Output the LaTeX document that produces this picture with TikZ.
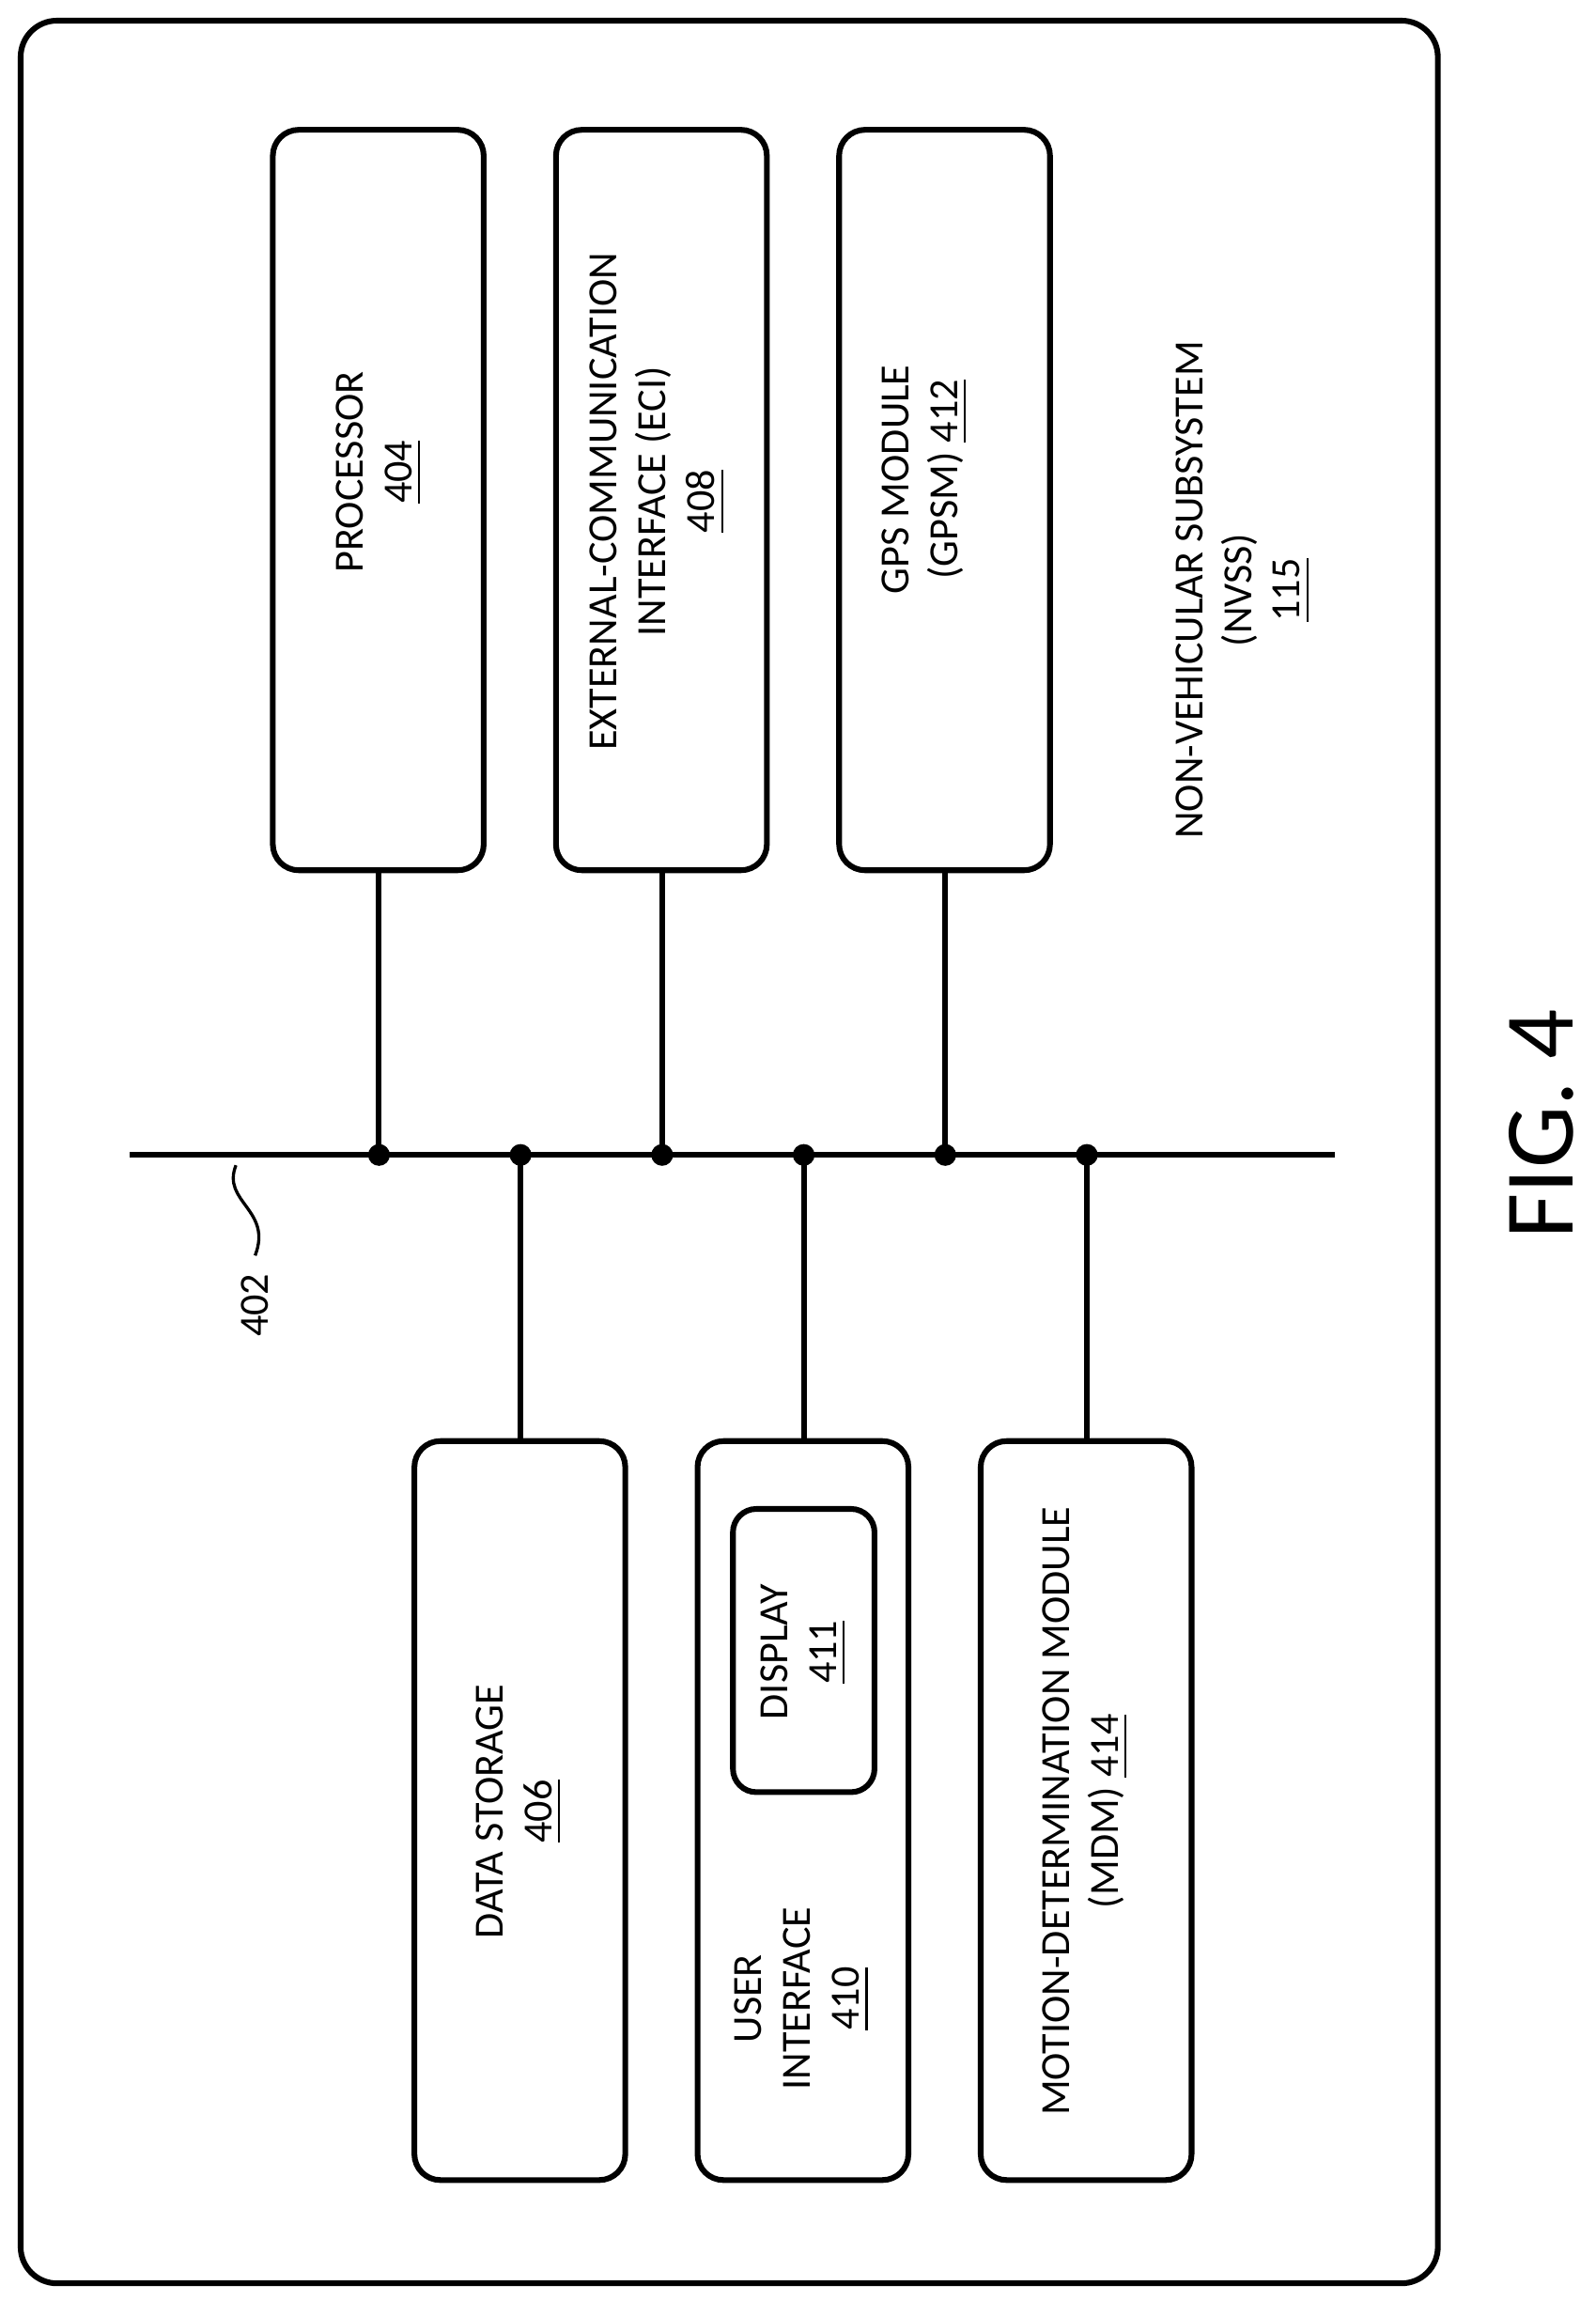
\documentclass[tikz,border=0pt]{standalone}
\usepackage{fontspec}
\setmainfont{Carlito}
\begin{document}
\begin{tikzpicture}[x=0.01cm,y=-0.01cm,
  box/.style={draw,line width=1.1pt,rounded corners=5pt},
  lbl/.style={rotate=90,align=center,font=\fontsize{8}{9.4}\selectfont},
  ln/.style={line width=1.1pt},
  dot/.style={circle,fill,inner sep=0pt,minimum size=4.2pt}]
\useasboundingbox (0,0) rectangle (1082,1560);
\draw[line width=1.1pt,rounded corners=7pt] (14,14) rectangle (975,1548);
% top boxes
\draw[box] (185,88) rectangle (328,590); \coordinate (p) at (257,590);
\draw[box] (377,88) rectangle (520,590); \coordinate (e) at (449,590);
\draw[box] (569,88) rectangle (712,590); \coordinate (g) at (641,590);
\node[lbl] (tp) at (257,320) {PROCESSOR\\\underline{404}};
\node[lbl] (te) at (446,340) {EXTERNAL-COMMUNICATION\\INTERFACE (ECI)\\\underline{408}};
\node[lbl] (tg) at (627,325) {GPS MODULE\\(GPSM) \underline{412}};
% bottom boxes
\draw[box] (281,977) rectangle (424,1478); \coordinate (d) at (353,977);
\draw[box] (473,977) rectangle (616,1478); \coordinate (u) at (545,977);
\draw[box] (665,977) rectangle (808,1478); \coordinate (m) at (737,977);
\draw[box,rounded corners=4.5pt] (497,1023) rectangle (593,1215);
\node[lbl] (td) at (352,1228) {DATA STORAGE\\\underline{406}};
\node[lbl] (tu) at (544,1355) {USER\\INTERFACE\\\underline{410}};
\node[lbl] (tdi) at (545,1120) {DISPLAY\\\underline{411}};
\node[lbl] (tm) at (736,1228) {MOTION-DETERMINATION MODULE\\(MDM) \underline{414}};
\node[lbl] (tn) at (843,400) {NON-VEHICULAR SUBSYSTEM\\(NVSS)\\\underline{115}};
% bus
\coordinate (b0) at (88,783); \coordinate (b1) at (905,783);
\draw[ln] (b0) -- (b1);
\foreach \n/\x in {p/257,e/449,g/641}{\node[dot] (n\n) at (\x,783) {}; \draw[ln] (\n) -- (n\n.center);}
\foreach \n/\x in {d/353,u/545,m/737}{\node[dot] (n\n) at (\x,783) {}; \draw[ln] (n\n.center) -- (\n);}
% 402 label
\node[rotate=90,font=\fontsize{8}{9.4}\selectfont] (l402) at (173,885) {402};
\coordinate (s0) at (160,790);
\draw[line width=0.6pt] (s0) .. controls (150,815) and (185,820) .. (l402.east);
\node[rotate=90,font=\fontsize{19}{22}\selectfont] (fig) at (1045,762) {FIG. 4};
\end{tikzpicture}
\end{document}
